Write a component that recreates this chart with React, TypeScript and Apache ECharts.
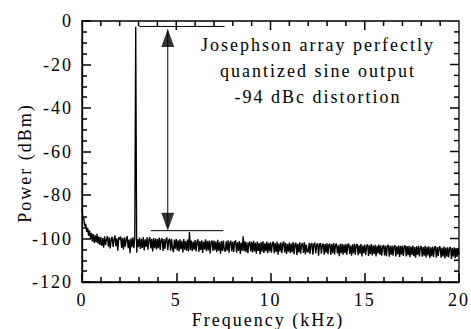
import React, { useEffect, useRef } from "react";
import * as echarts from "echarts";

// Frequency sampling of the trace (kHz)
const freqStep = 0.05;

// Power (dBm), one value every 0.05 kHz from 0 to 20 kHz
const powerDbm: number[] = [
  // 0.00 - 0.95
  -86.5, -90.5, -90.8, -94.5, -93.2, -97.0, -95.1, -98.8, -96.3, -100.2, -97.4, -101.3, -98.0, -102.0, -98.6, -101.8, -97.9, -102.4, -99.1, -103.0,
  // 1.00 - 1.95
  -99.3, -103.4, -99.8, -104.2, -99.0, -103.0, -100.4, -98.9, -103.8, -99.6, -104.6, -100.1, -99.2, -103.9, -100.6, -98.7, -103.5, -99.9, -105.6, -99.4,
  // 2.00 - 2.95 (carrier at 2.85 kHz)
  -100.4, -99.1, -104.3, -99.8, -105.0, -99.4, -103.8, -100.2, -98.9, -104.5, -100.5, -106.8, -99.9, -104.0, -99.5, -104.4, -100.0, -2.6, -106.5, -100.3,
  // 3.00 - 3.95
  -104.0, -99.6, -104.8, -100.1, -104.3, -99.3, -105.5, -100.4, -103.9, -99.5, -105.1, -100.6, -99.4, -104.6, -100.2, -105.9, -99.8, -104.5, -100.0, -105.0,
  // 4.00 - 4.95
  -100.3, -104.4, -99.6, -105.3, -100.6, -99.9, -105.7, -100.3, -104.8, -100.7, -99.5, -105.4, -100.9, -100.0, -105.6, -100.2, -104.5, -106.3, -100.6, -104.7,
  // 5.00 - 5.95 (spur at 5.70 kHz)
  -100.2, -105.5, -100.8, -105.9, -100.4, -104.9, -101.1, -106.4, -100.3, -105.2, -101.2, -105.6, -100.5, -106.0, -97.0, -105.3, -100.9, -105.8, -101.4, -105.1,
  // 6.00 - 6.95
  -100.7, -105.9, -101.5, -100.4, -106.2, -101.2, -105.3, -100.8, -106.6, -101.4, -105.0, -100.4, -105.8, -101.1, -105.5, -100.9, -106.9, -101.6, -101.0, -105.7,
  // 7.00 - 7.95
  -100.9, -105.4, -101.4, -106.3, -100.6, -105.6, -101.7, -107.0, -101.2, -105.7, -101.0, -105.3, -106.1, -101.3, -105.6, -100.8, -106.5, -101.9, -101.1, -105.9,
  // 8.00 - 8.95 (spur at 8.55 kHz)
  -101.4, -106.2, -101.6, -100.9, -106.5, -101.8, -105.7, -101.2, -107.1, -102.0, -105.6, -99.0, -105.8, -101.3, -106.3, -101.7, -106.8, -102.2, -101.4, -106.0,
  // 9.00 - 9.95
  -101.5, -106.4, -101.1, -105.9, -101.9, -107.0, -101.4, -105.7, -102.1, -107.3, -101.6, -106.1, -101.3, -106.6, -102.2, -105.8, -101.4, -106.7, -102.0, -106.0,
  // 10.00 - 10.95
  -101.7, -106.5, -102.4, -101.4, -106.8, -102.1, -106.2, -101.5, -107.4, -102.3, -105.9, -101.8, -106.7, -102.5, -101.4, -106.4, -102.0, -107.1, -102.4, -106.1,
  // 11.00 - 11.95
  -101.9, -106.7, -102.3, -106.3, -101.6, -107.2, -102.5, -102.0, -107.6, -102.4, -106.4, -101.8, -107.0, -102.6, -102.1, -106.6, -101.7, -107.3, -102.8, -106.0,
  // 12.00 - 12.95
  -106.3, -102.0, -107.1, -102.5, -102.2, -107.4, -102.7, -101.9, -106.8, -102.9, -102.3, -107.9, -102.6, -102.1, -107.0, -102.9, -102.4, -107.5, -102.5, -106.5,
  // 13.00 - 13.95
  -102.2, -107.2, -102.8, -102.4, -107.6, -102.6, -106.7, -102.1, -107.3, -102.9, -102.3, -106.9, -103.1, -108.1, -102.5, -106.8, -102.4, -107.4, -102.8, -106.7,
  // 14.00 - 14.95
  -102.5, -107.5, -102.9, -102.4, -107.1, -103.3, -107.9, -102.7, -106.9, -102.4, -107.4, -103.0, -102.6, -107.7, -103.1, -107.0, -102.5, -108.2, -103.2, -106.8,
  // 15.00 - 15.95
  -102.8, -107.6, -103.4, -102.7, -108.0, -103.1, -107.2, -102.6, -107.8, -103.3, -107.1, -102.9, -108.3, -103.4, -106.9, -102.8, -107.5, -103.1, -107.9, -103.7,
  // 16.00 - 16.95
  -103.0, -107.8, -103.3, -108.1, -103.5, -102.9, -108.4, -103.4, -107.5, -103.2, -107.9, -103.7, -103.1, -108.2, -103.6, -107.3, -103.2, -108.5, -103.4, -107.4,
  // 17.00 - 17.95
  -103.3, -108.0, -103.8, -103.2, -108.3, -103.5, -107.7, -103.4, -108.6, -103.7, -107.5, -103.3, -108.1, -103.9, -108.8, -103.6, -107.6, -103.4, -108.2, -104.0,
  // 18.00 - 18.95
  -103.5, -108.4, -103.9, -107.9, -103.4, -108.7, -103.8, -107.8, -103.6, -108.9, -104.1, -108.1, -103.7, -108.5, -104.3, -103.5, -108.8, -104.0, -108.0, -103.8,
  // 19.00 - 19.95
  -103.9, -108.8, -104.3, -108.2, -103.7, -109.2, -104.2, -108.4, -104.0, -108.7, -104.5, -103.9, -109.4, -104.4, -108.3, -104.1, -109.0, -104.5, -108.5, -104.3,
  // 20.00
  -107.5,
];

// Annotation marks (kHz, dBm)
const topRefLine: [number, number][] = [[3.04, -2.5], [7.56, -2.5]];
const bottomRefLine: [number, number][] = [[3.66, -96.4], [7.5, -96.4]];
const arrowShaft: [number, number][] = [[4.55, -4], [4.55, -95]];
const arrowHeadUp: [number, number] = [4.55, -7.8];
const arrowHeadDown: [number, number] = [4.55, -92.3];

// Axis ranges and tick values
const xRange = { min: 0, max: 20, interval: 5 };
const yRange = { min: -120, max: 0, interval: 20 };
const xMinorSplit = 5;
const yMinorSplit = 4;
const xMajorTicks = [5, 10, 15];
const xMinorTicks = [1, 2, 3, 4, 6, 7, 8, 9, 11, 12, 13, 14, 16, 17, 18, 19];
const yMajorTicks = [-100, -80, -60, -40, -20];
const yMinorTicks = [
  -115, -110, -105, -95, -90, -85, -75, -70, -65, -55, -50, -45, -35, -30, -25, -15, -10, -5,
];

const annotationLines = [
  "Josephson array perfectly",
  "quantized sine output",
  "-94 dBc distortion",
];
const xAxisTitle = "Frequency (kHz)";
const yAxisTitle = "Power (dBm)";

const FONT = "'Liberation Serif', 'Times New Roman', serif";

export default function App() {
  const ref = useRef<HTMLDivElement>(null);

  useEffect(() => {
    if (!ref.current) return;
    const chart = echarts.init(ref.current, undefined, { renderer: "svg" });

    const spectrum = powerDbm.map((p, i) => [+(i * freqStep).toFixed(2), p]);

    // mirrored ticks on the top and right frame: [value, axis (0 = x, 1 = y), major flag]
    const mirrorTicks: number[][] = [
      ...xMajorTicks.map((v) => [v, 0, 1]),
      ...xMinorTicks.map((v) => [v, 0, 0]),
      ...yMajorTicks.map((v) => [v, 1, 1]),
      ...yMinorTicks.map((v) => [v, 1, 0]),
    ];
    const MAJOR_LEN = 9;
    const MINOR_LEN = 5;
    const TICK_W = 1.5;

    const labelStyle = { color: "#000", fontFamily: FONT, fontSize: 18 };
    const blackLine = { color: "#000", width: 1 };
    const textStyle = (t: string) => ({
      text: t,
      font: `18px ${FONT}`,
      fill: "#000",
      align: "center",
      verticalAlign: "middle",
    });

    chart.setOption({
      animation: false,
      grid: {
        left: 82,
        right: 8,
        top: 21,
        bottom: 47,
        show: true,
        borderColor: "#000",
        borderWidth: 1.3,
        backgroundColor: "transparent",
      },
      xAxis: {
        type: "value",
        ...xRange,
        position: "bottom",
        axisLine: { show: true, onZero: false, lineStyle: { color: "#000", width: 1.3 } },
        axisTick: { show: true, inside: true, length: MAJOR_LEN, lineStyle: { color: "#000", width: TICK_W } },
        minorTick: { show: true, splitNumber: xMinorSplit, length: MINOR_LEN, lineStyle: { color: "#000", width: TICK_W } },
        splitLine: { show: false },
        axisLabel: { ...labelStyle, margin: 9 },
      },
      yAxis: {
        type: "value",
        ...yRange,
        position: "left",
        axisLine: { show: true, onZero: false, lineStyle: { color: "#000", width: 1.3 } },
        axisTick: { show: true, inside: true, length: MAJOR_LEN, lineStyle: { color: "#000", width: TICK_W } },
        minorTick: { show: true, splitNumber: yMinorSplit, length: MINOR_LEN, lineStyle: { color: "#000", width: TICK_W } },
        splitLine: { show: false },
        axisLabel: { ...labelStyle, margin: 9 },
      },
      series: [
        {
          name: "spectrum",
          type: "line",
          data: spectrum,
          showSymbol: false,
          symbol: "none",
          lineStyle: { color: "#000", width: 1.35 },
          z: 3,
        },
        { type: "line", data: topRefLine, symbol: "none", lineStyle: blackLine },
        { type: "line", data: bottomRefLine, symbol: "none", lineStyle: blackLine },
        { type: "line", data: arrowShaft, symbol: "none", lineStyle: blackLine },
        {
          type: "scatter",
          symbol: "triangle",
          symbolSize: [13, 18],
          itemStyle: { color: "#000" },
          data: [
            { value: arrowHeadUp, symbolRotate: 0 },
            { value: arrowHeadDown, symbolRotate: 180 },
          ],
        },
        {
          type: "custom",
          data: mirrorTicks,
          renderItem: (params: any, api: any) => {
            const v = api.value(0);
            const isY = api.value(1) === 1;
            const len = api.value(2) === 1 ? MAJOR_LEN : MINOR_LEN;
            if (!isY) {
              const t = api.coord([v, yRange.max]);
              return {
                type: "line",
                shape: { x1: t[0], y1: t[1], x2: t[0], y2: t[1] + len },
                style: { stroke: "#000", lineWidth: TICK_W },
              };
            }
            const r = api.coord([xRange.max, v]);
            return {
              type: "line",
              shape: { x1: r[0], y1: r[1], x2: r[0] - len, y2: r[1] },
              style: { stroke: "#000", lineWidth: TICK_W },
            };
          },
        },
      ],
      graphic: [
        ...annotationLines.map((t, i) => ({
          type: "text",
          x: 318,
          y: 45 + i * 26,
          style: textStyle(t),
        })),
        { type: "text", x: 268, y: 320, style: textStyle(xAxisTitle) },
        { type: "text", x: 25, y: 163, rotation: Math.PI / 2, style: textStyle(yAxisTitle) },
      ],
    });

    return () => chart.dispose();
  }, []);

  return (
    <div
      ref={ref}
      style={{
        position: "fixed",
        left: 0,
        top: 0,
        width: 471,
        height: 329,
        letterSpacing: "2px",
        background: "#fff",
      }}
    />
  );
}
